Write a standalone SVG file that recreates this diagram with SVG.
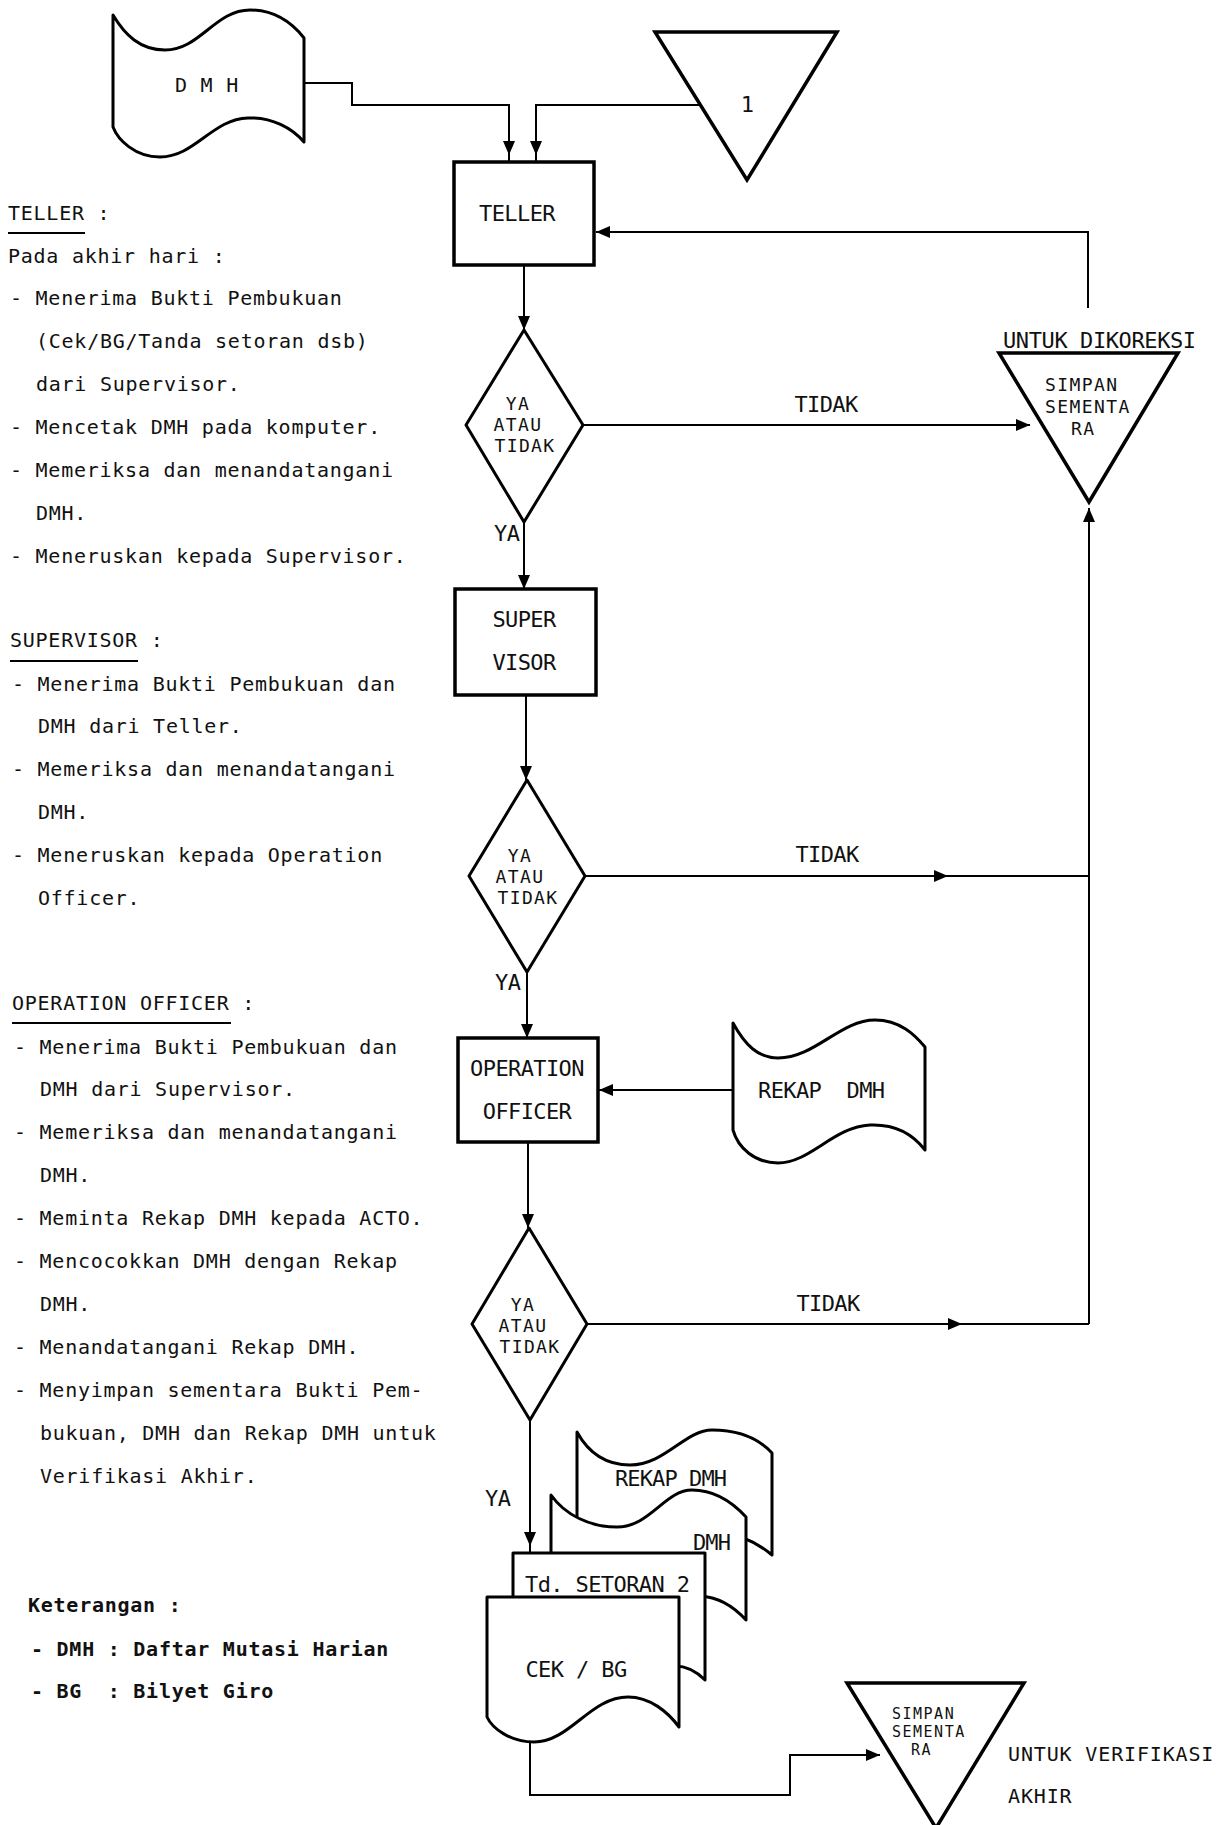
<svg xmlns="http://www.w3.org/2000/svg" width="1232" height="1825" viewBox="0 0 1232 1825">
<style>
text{font-family:"DejaVu Sans Mono","Liberation Mono",monospace;fill:#111}
.t{font-size:20px;letter-spacing:0.75px;white-space:pre}
.b{font-size:20px;font-weight:bold;letter-spacing:0.75px;white-space:pre}
.n{font-size:22px;letter-spacing:-0.6px}
.s{font-size:18px;letter-spacing:1.4px}
.s2{font-size:15px;letter-spacing:1.5px}
.box{fill:#fff;stroke:#000;stroke-width:3.5}
.shp{fill:#fff;stroke:#000;stroke-width:3;stroke-linejoin:round}
.tri{fill:#fff;stroke:#000;stroke-width:3.5;stroke-linejoin:miter}
.ln{fill:none;stroke:#000;stroke-width:2}
.ul{stroke:#000;stroke-width:2}
</style>
<defs>
<marker id="arr" markerUnits="userSpaceOnUse" markerWidth="14" markerHeight="12" viewBox="0 0 14 12" refX="14" refY="6" orient="auto"><path d="M0,0 L14,6 L0,12 Z" fill="#000"/></marker>
<marker id="arrG" markerUnits="userSpaceOnUse" markerWidth="21" markerHeight="12" viewBox="0 0 21 12" refX="21" refY="6" orient="auto"><path d="M0,0 L14,6 L0,12 Z" fill="#000"/></marker>
<marker id="arrM" markerUnits="userSpaceOnUse" markerWidth="14" markerHeight="12" viewBox="0 0 14 12" refX="14" refY="6" orient="auto"><path d="M0,0 L14,6 L0,12 Z" fill="#000"/></marker>
</defs>
<rect width="1232" height="1825" fill="#fff"/>

<g id="connectors">
<path class="ln" d="M304,83 H352 V105 H509 V162" marker-end="url(#arrG)"/>
<path class="ln" d="M700,105 H536 V162" marker-end="url(#arrG)"/>
<path class="ln" d="M524,265 V330" marker-end="url(#arr)"/>
<path class="ln" d="M524,522 V589" marker-end="url(#arr)"/>
<path class="ln" d="M526,695 V780" marker-end="url(#arr)"/>
<path class="ln" d="M527,972 V1038" marker-end="url(#arr)"/>
<path class="ln" d="M528,1142 V1228" marker-end="url(#arr)"/>
<path class="ln" d="M530,1420 V1553" marker-end="url(#arrG)"/>
<path class="ln" d="M733,1090 H599" marker-end="url(#arr)"/>
<path class="ln" d="M583,425 H1030" marker-end="url(#arr)"/>
<path class="ln" d="M585,876 L948,876 L1089,876" marker-mid="url(#arrM)"/>
<path class="ln" d="M587,1324 L962,1324 L1089,1324" marker-mid="url(#arrM)"/>
<path class="ln" d="M1089,1324 V508" marker-end="url(#arr)"/>
<path class="ln" d="M1088,308 V232 H596" marker-end="url(#arr)"/>
<path class="ln" d="M530,1742 V1795 H790 V1755 H880" marker-end="url(#arr)"/>
</g>

<g id="dmh-top">
<path class="shp" d="M113,15 C125,35 140,50 165,50 C200,50 215,10 250,10 C275,10 293,24 304,38 L304,142 C292,128 272,117 248,118 C212,119 195,157 160,157 C135,157 118,140 113,127 Z"/>
<text class="t" x="175" y="92">D M H</text>
</g>

<g id="connector-1">
<polygon class="tri" points="655,32 837,32 747,180"/>
<text class="n" x="747" y="112" text-anchor="middle">1</text>
</g>

<g id="teller">
<rect class="box" x="454" y="162" width="140" height="103"/>
<text class="n" x="517" y="221" text-anchor="middle">TELLER</text>
</g>

<g id="decision-1">
<polygon class="shp" points="524,330 583,425 524,522 466,425"/>
<text class="s" x="518" y="410" text-anchor="middle">YA</text>
<text class="s" x="518" y="431" text-anchor="middle">ATAU</text>
<text class="s" x="525" y="452" text-anchor="middle">TIDAK</text>
</g>

<g id="supervisor">
<rect class="box" x="455" y="589" width="141" height="106"/>
<text class="n" x="524" y="627" text-anchor="middle">SUPER</text>
<text class="n" x="524" y="670" text-anchor="middle">VISOR</text>
</g>

<g id="decision-2">
<polygon class="shp" points="527,780 585,876 527,972 469,876"/>
<text class="s" x="520" y="862" text-anchor="middle">YA</text>
<text class="s" x="520" y="883" text-anchor="middle">ATAU</text>
<text class="s" x="528" y="904" text-anchor="middle">TIDAK</text>
</g>

<g id="operation-officer">
<rect class="box" x="458" y="1038" width="140" height="104"/>
<text class="n" x="527" y="1076" text-anchor="middle">OPERATION</text>
<text class="n" x="527" y="1119" text-anchor="middle">OFFICER</text>
</g>

<g id="rekap-dmh">
<path class="shp" d="M733,1023 C745,1045 758,1058 778,1058 C815,1058 840,1020 875,1020 C900,1020 915,1035 925,1047 L925,1150 C912,1133 893,1124 870,1125 C833,1127 810,1163 778,1163 C755,1163 738,1148 733,1130 Z"/>
<text class="n" x="758" y="1098" style="white-space:pre">REKAP  DMH</text>
</g>

<g id="decision-3">
<polygon class="shp" points="529,1228 587,1324 530,1420 472,1324"/>
<text class="s" x="523" y="1311" text-anchor="middle">YA</text>
<text class="s" x="523" y="1332" text-anchor="middle">ATAU</text>
<text class="s" x="530" y="1353" text-anchor="middle">TIDAK</text>
</g>

<g id="simpan-koreksi">
<polygon class="tri" points="999,353 1178,353 1089,502"/>
<text class="n" x="1003" y="348" style="letter-spacing:-0.4px">UNTUK DIKOREKSI</text>
<text class="s" x="1045" y="391">SIMPAN</text>
<text class="s" x="1045" y="413">SEMENTA</text>
<text class="s" x="1071" y="435">RA</text>
</g>

<g id="document-stack">
<path class="shp" d="M577,1432 C588,1452 605,1465 630,1465 C665,1465 685,1430 712,1430 C740,1430 760,1440 772,1453 L772,1555 C760,1545 745,1535 725,1535 C690,1535 660,1565 620,1565 C600,1565 585,1560 577,1555 Z"/>
<text class="n" x="615" y="1486" style="letter-spacing:-0.9px">REKAP DMH</text>
<path class="shp" d="M551,1495 C565,1515 590,1527 617,1527 C650,1527 665,1490 692,1490 C718,1490 735,1505 746,1517 L746,1620 C735,1608 720,1597 700,1596 C665,1596 650,1640 615,1640 C590,1640 560,1625 551,1610 Z"/>
<text class="n" x="693" y="1550" style="letter-spacing:-0.9px">DMH</text>
<path class="shp" d="M513,1553 L705,1553 L705,1680 C697,1672 688,1666 675,1666 C645,1666 620,1685 590,1685 C560,1685 530,1680 513,1675 Z"/>
<text class="n" x="525" y="1592" style="white-space:pre">Td. SETORAN 2</text>
<path class="shp" d="M487,1597 L679,1597 L679,1727 C668,1712 650,1697 628,1697 C590,1697 570,1742 534,1742 C510,1742 492,1728 487,1717 Z"/>
<text class="n" x="576" y="1677" text-anchor="middle" style="white-space:pre">CEK / BG</text>
</g>

<g id="simpan-verifikasi">
<polygon class="tri" points="847,1683 1024,1683 936,1828"/>
<text class="s2" x="892" y="1719">SIMPAN</text>
<text class="s2" x="892" y="1737">SEMENTA</text>
<text class="s2" x="911" y="1755">RA</text>
<text class="t" x="1008" y="1761" style="letter-spacing:0.85px">UNTUK VERIFIKASI</text>
<text class="t" x="1008" y="1803" style="letter-spacing:0.85px">AKHIR</text>
</g>

<g id="edge-labels">
<text class="n" x="826" y="412" text-anchor="middle">TIDAK</text>
<text class="n" x="827" y="862" text-anchor="middle">TIDAK</text>
<text class="n" x="828" y="1311" text-anchor="middle">TIDAK</text>
<text class="n" x="494" y="541">YA</text>
<text class="n" x="495" y="990">YA</text>
<text class="n" x="485" y="1506">YA</text>
</g>

<g id="notes-teller">
<text class="t" x="8" y="220">TELLER :</text>
<line class="ul" x1="8" y1="233" x2="85" y2="233"/>
<text class="t" x="8" y="263">Pada akhir hari :</text>
<text class="t" x="10" y="305">- Menerima Bukti Pembukuan</text>
<text class="t" x="36" y="348">(Cek/BG/Tanda setoran dsb)</text>
<text class="t" x="36" y="391">dari Supervisor.</text>
<text class="t" x="10" y="434">- Mencetak DMH pada komputer.</text>
<text class="t" x="10" y="477">- Memeriksa dan menandatangani</text>
<text class="t" x="36" y="520">DMH.</text>
<text class="t" x="10" y="563">- Meneruskan kepada Supervisor.</text>
</g>

<g id="notes-supervisor">
<text class="t" x="10" y="647">SUPERVISOR :</text>
<line class="ul" x1="10" y1="661" x2="138" y2="661"/>
<text class="t" x="12" y="691">- Menerima Bukti Pembukuan dan</text>
<text class="t" x="38" y="733">DMH dari Teller.</text>
<text class="t" x="12" y="776">- Memeriksa dan menandatangani</text>
<text class="t" x="38" y="819">DMH.</text>
<text class="t" x="12" y="862">- Meneruskan kepada Operation</text>
<text class="t" x="38" y="905">Officer.</text>
</g>

<g id="notes-operation-officer">
<text class="t" x="12" y="1010">OPERATION OFFICER :</text>
<line class="ul" x1="12" y1="1023" x2="231" y2="1023"/>
<text class="t" x="14" y="1054">- Menerima Bukti Pembukuan dan</text>
<text class="t" x="40" y="1096">DMH dari Supervisor.</text>
<text class="t" x="14" y="1139">- Memeriksa dan menandatangani</text>
<text class="t" x="40" y="1182">DMH.</text>
<text class="t" x="14" y="1225">- Meminta Rekap DMH kepada ACTO.</text>
<text class="t" x="14" y="1268">- Mencocokkan DMH dengan Rekap</text>
<text class="t" x="40" y="1311">DMH.</text>
<text class="t" x="14" y="1354">- Menandatangani Rekap DMH.</text>
<text class="t" x="14" y="1397">- Menyimpan sementara Bukti Pem-</text>
<text class="t" x="40" y="1440">bukuan, DMH dan Rekap DMH untuk</text>
<text class="t" x="40" y="1483">Verifikasi Akhir.</text>
</g>

<g id="legend">
<text class="b" x="28" y="1612">Keterangan :</text>
<text class="b" x="31" y="1656">- DMH : Daftar Mutasi Harian</text>
<text class="b" x="31" y="1698">- BG  : Bilyet Giro</text>
</g>
</svg>
